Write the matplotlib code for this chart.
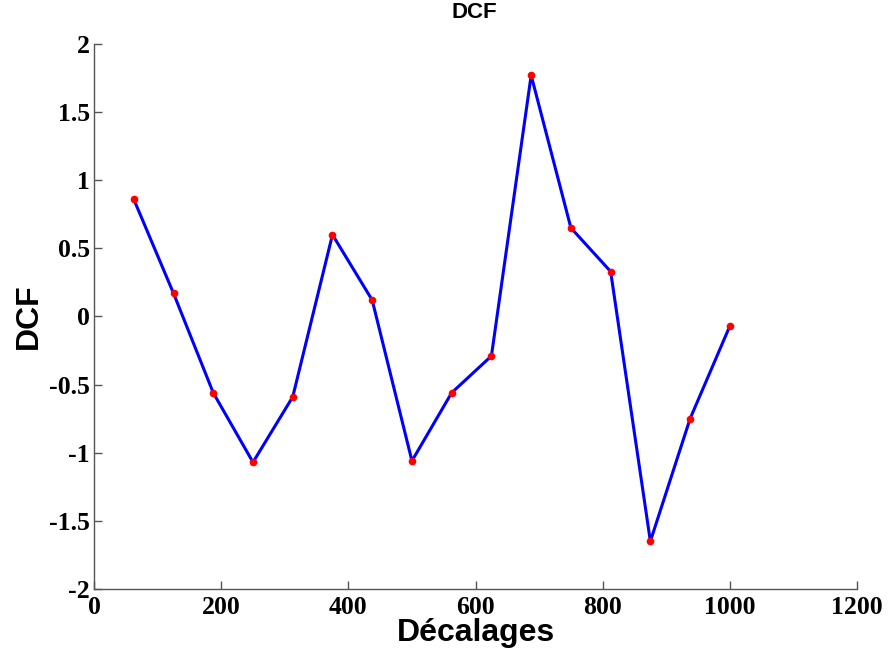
import matplotlib
matplotlib.use("Agg")
import matplotlib.pyplot as plt

# Lags and discrete correlation function values
lags = [62.5, 125, 187.5, 250, 312.5, 375, 437.5, 500,
        562.5, 625, 687.5, 750, 812.5, 875, 937.5, 1000]
dcf = [0.86, 0.17, -0.56, -1.07, -0.59, 0.60, 0.12, -1.06,
       -0.56, -0.29, 1.77, 0.65, 0.33, -1.65, -0.75, -0.07]

xticks = [0, 200, 400, 600, 800, 1000, 1200]
yticks = [-2, -1.5, -1, -0.5, 0, 0.5, 1, 1.5, 2]
ytick_labels = ["-2", "-1.5", "-1", "-0.5", "0", "0.5", "1", "1.5", "2"]

fig = plt.figure(figsize=(8.88, 6.60), dpi=100)
ax = fig.add_axes([0.1059, 0.1076, 0.8592, 0.8258])

ax.plot(lags, dcf, color="#0000ff", linewidth=2.2, zorder=2)
ax.plot(lags, dcf, linestyle="none", marker="o", markersize=4.5,
        color="#ff0000", markeredgecolor="#ff0000", zorder=3)

ax.set_xlim(0, 1200)
ax.set_ylim(-2, 2)
ax.set_xticks(xticks)
ax.set_yticks(yticks)
ax.set_yticklabels(ytick_labels)

for side in ("top", "right"):
    ax.spines[side].set_visible(False)
for side in ("left", "bottom"):
    ax.spines[side].set_color("#555555")
    ax.spines[side].set_linewidth(1.0)

ax.tick_params(direction="in", length=6, width=1.0, color="#555555",
               labelsize=18.5)
ax.tick_params(axis="x", pad=5)
ax.tick_params(axis="y", pad=3)
for lab in ax.get_xticklabels() + ax.get_yticklabels():
    lab.set_fontfamily("Liberation Serif")
    lab.set_fontweight("bold")

ax.set_ylabel("DCF", fontsize=23, fontweight="bold",
              fontfamily="Liberation Sans", labelpad=4)
fig.text(0.5355, 1 - 633 / 660, "Décalages", fontsize=23, fontweight="bold",
         fontfamily="Liberation Sans", ha="center", va="center")
fig.text(0.534, 1 - 12 / 660, "DCF", fontsize=16, fontweight="bold",
         fontfamily="Liberation Sans", ha="center", va="center")

fig.savefig("out.png", dpi=100, facecolor="white")
